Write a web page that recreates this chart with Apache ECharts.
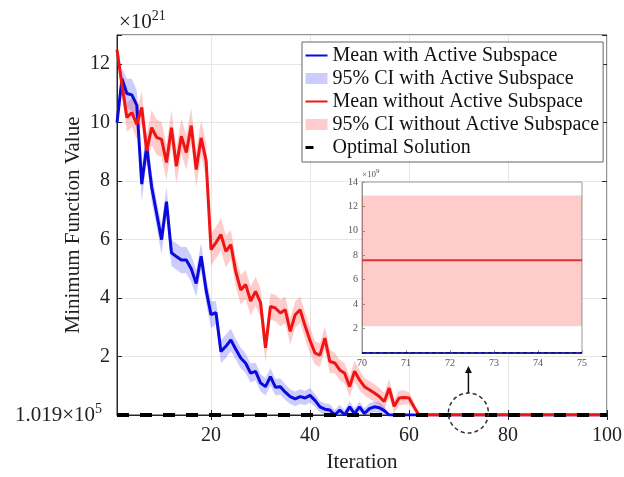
<!DOCTYPE html>
<html>
<head>
<meta charset="utf-8">
<script src="https://cdn.jsdelivr.net/npm/echarts@6/dist/echarts.min.js"></script>
<style>
html,body{margin:0;padding:0;background:#fff;}
#c{width:624px;height:477px;}
</style>
</head>
<body>
<div id="c"></div>
<script>
// ---------- data (values in units of 1e21; 0 == optimal 1.019e5) ----------
const iterations = Array.from({length: 100}, (_, i) => i + 1);

const blueMean = [
  10.0, 11.5, 11.0, 10.95, 10.6, 7.9, 9.2, 7.8, 6.9, 6.0,
  7.3, 5.55, 5.42, 5.3, 5.3, 5.0, 4.5, 5.43, 4.28, 3.43,
  3.5, 2.17, 2.35, 2.57, 2.25, 1.95, 1.77, 1.43, 1.49, 1.1,
  0.97, 1.31, 0.95, 0.97, 0.78, 0.63, 0.55, 0.63, 0.58, 0.67,
  0.5, 0.28, 0.2, 0.17, 0.0, 0.17, 0.0, 0.28, 0.05, 0.28,
  0.05, 0.22, 0.28, 0.25, 0.15, 0, 0, 0, 0, 0,
  0, 0, 0, 0, 0, 0, 0, 0, 0, 0,
  0, 0, 0, 0, 0, 0, 0, 0, 0, 0,
  0, 0, 0, 0, 0, 0, 0, 0, 0, 0,
  0, 0, 0, 0, 0, 0, 0, 0, 0, 0
];
const blueHalfCI = [
  0.1, 0.35, 0.5, 0.55, 0.5, 0.6, 0.5, 0.5, 0.45, 0.5,
  0.5, 0.45, 0.45, 0.45, 0.45, 0.45, 0.45, 0.45, 0.45, 0.45,
  0.4, 0.4, 0.4, 0.38, 0.35, 0.35, 0.33, 0.33, 0.3, 0.3,
  0.3, 0.3, 0.28, 0.28, 0.27, 0.25, 0.25, 0.25, 0.25, 0.25,
  0.22, 0.2, 0.2, 0.2, 0.18, 0.18, 0.18, 0.18, 0.18, 0.18,
  0.18, 0.18, 0.18, 0.18, 0.15, 0, 0, 0, 0, 0,
  0, 0, 0, 0, 0, 0, 0, 0, 0, 0,
  0, 0, 0, 0, 0, 0, 0, 0, 0, 0,
  0, 0, 0, 0, 0, 0, 0, 0, 0, 0,
  0, 0, 0, 0, 0, 0, 0, 0, 0, 0
];
const redMean = [
  12.5, 11.3, 10.18, 10.35, 9.94, 10.52, 9.03, 9.83, 9.5, 9.43,
  8.64, 9.83, 8.51, 9.54, 8.98, 9.9, 8.4, 9.48, 8.7, 5.66,
  5.9, 6.17, 5.6, 5.83, 4.9, 4.28, 4.46, 3.9, 4.23, 3.84,
  2.3, 3.71, 3.66, 3.49, 3.6, 2.86, 3.43, 3.6, 3.05, 2.55,
  2.12, 2.05, 2.63, 1.83, 1.78, 1.54, 1.43, 0.97, 1.5, 1.2,
  0.97, 0.86, 0.75, 0.63, 0.46, 0.92, 0.3, 0.58, 0.6, 0.58,
  0.28, 0, 0, 0, 0, 0, 0, 0, 0, 0,
  0, 0, 0, 0, 0, 0, 0, 0, 0, 0,
  0, 0, 0, 0, 0, 0, 0, 0, 0, 0,
  0, 0, 0, 0, 0, 0, 0, 0, 0, 0
];
const redHalfCI = [
  0.2, 0.4, 0.5, 0.5, 0.5, 0.55, 0.55, 0.6, 0.6, 0.6,
  0.6, 0.6, 0.6, 0.6, 0.6, 0.6, 0.6, 0.6, 0.6, 0.55,
  0.55, 0.55, 0.55, 0.5, 0.5, 0.5, 0.5, 0.5, 0.5, 0.5,
  0.5, 0.45, 0.45, 0.45, 0.45, 0.45, 0.45, 0.45, 0.45, 0.45,
  0.4, 0.4, 0.4, 0.4, 0.35, 0.35, 0.35, 0.35, 0.35, 0.35,
  0.3, 0.3, 0.3, 0.3, 0.3, 0.3, 0.25, 0.25, 0.25, 0.2,
  0.15, 0, 0, 0, 0, 0, 0, 0, 0, 0,
  0, 0, 0, 0, 0, 0, 0, 0, 0, 0,
  0, 0, 0, 0, 0, 0, 0, 0, 0, 0,
  0, 0, 0, 0, 0, 0, 0, 0, 0, 0
];
const optimalValue = 0;

// inset (units of 1e9)
const insetIter = [70, 71, 72, 73, 74, 75];
const insetRedMean = [7.6, 7.6, 7.6, 7.6, 7.6, 7.6];
const insetRedLow = [2.2, 2.2, 2.2, 2.2, 2.2, 2.2];
const insetRedHigh = [12.9, 12.9, 12.9, 12.9, 12.9, 12.9];
const insetBlueMean = [0, 0, 0, 0, 0, 0];

// ---------- derived ----------
const blueLow = blueMean.map((m, i) => Math.max(0, m - blueHalfCI[i]));
const blueSpan = blueMean.map((m, i) => m + blueHalfCI[i] - blueLow[i]);
const redLow = redMean.map((m, i) => Math.max(0, m - redHalfCI[i]));
const redSpan = redMean.map((m, i) => m + redHalfCI[i] - redLow[i]);
const optimal = iterations.map(() => optimalValue);
const insetSpan = insetRedHigh.map((h, i) => h - insetRedLow[i]);
const insetOptimal = insetIter.map(() => optimalValue);

const SERIF = '"Liberation Serif","Times New Roman",serif';
const every20 = (idx, val) => Number(val) % 20 === 0;
const AX = '#262626';
const GRIDC = '#e6e6e6';
const BLUE = '#0a0adc';
const RED = '#f01414';
const BLUE_CI = 'rgba(0,0,255,0.2)';
const RED_CI = 'rgba(255,0,0,0.2)';

const chart = echarts.init(document.getElementById('c'), null, {renderer: 'canvas'});

const option = {
  animation: false,
  backgroundColor: '#fff',
  textStyle: {fontFamily: SERIF},
  grid: [
    {left: 117, top: 35, width: 490, height: 380, show: true, borderColor: AX, borderWidth: 1,
      backgroundColor: 'transparent', containLabel: false, outerBoundsMode: 'none'},
    {left: 362, top: 182, width: 220, height: 171, show: true, borderColor: '#999', borderWidth: 1,
      backgroundColor: '#fff', z: 3, containLabel: false, outerBoundsMode: 'none'}
  ],
  legend: {
    orient: 'vertical', left: 302, top: 42,
    itemWidth: 22, itemHeight: 11, itemGap: 0,
    padding: [2, 4, 3, 2],
    backgroundColor: '#fff', borderColor: '#666', borderWidth: 1,
    textStyle: {fontSize: 20, fontFamily: SERIF, color: '#111', lineHeight: 23},
    z: 8,
    data: [
      {name: 'Mean with Active Subspace', itemStyle: {opacity: 0}},
      {name: '95% CI with Active Subspace', icon: 'rect'},
      {name: 'Mean without Active Subspace', itemStyle: {opacity: 0}},
      {name: '95% CI without Active Subspace', icon: 'rect'},
      {name: 'Optimal Solution', itemStyle: {opacity: 0}, lineStyle: {type: [8, 40], width: 3}}
    ]
  },
  xAxis: [
    {
      type: 'category', gridIndex: 0, data: iterations.map(String), boundaryGap: false,
      axisLine: {lineStyle: {color: AX}},
      axisTick: {inside: true, length: 5, interval: every20, lineStyle: {color: AX}},
      axisLabel: {interval: every20, fontSize: 20, color: '#222', margin: 11, fontFamily: SERIF},
      splitLine: {show: true, interval: every20, lineStyle: {color: GRIDC}},
      name: 'Iteration', nameLocation: 'middle', nameGap: 37, nameMoveOverlap: false,
      nameTextStyle: {fontSize: 21, color: '#222', fontFamily: SERIF, verticalAlign: 'top'}
    },
    {
      type: 'category', gridIndex: 0, position: 'top', data: iterations.map(String), boundaryGap: false,
      axisLine: {show: false},
      axisTick: {inside: true, length: 5, interval: every20, lineStyle: {color: AX}},
      axisLabel: {show: false}, splitLine: {show: false}
    },
    {
      type: 'category', gridIndex: 1, data: insetIter.map(String), boundaryGap: false, z: 4,
      axisLine: {lineStyle: {color: '#999'}},
      axisTick: {inside: true, length: 3, lineStyle: {color: '#999'}},
      axisLabel: {fontSize: 10, color: '#555', margin: 5, fontFamily: SERIF},
      splitLine: {show: false}
    }
  ],
  yAxis: [
    {
      type: 'value', gridIndex: 0, min: 0, max: 13, interval: 2,
      axisLine: {show: true, lineStyle: {color: AX}},
      axisTick: {show: true, inside: true, length: 5, lineStyle: {color: AX}},
      axisLabel: {
        fontSize: 20, color: '#222', margin: 7, fontFamily: SERIF,
        formatter: v => v === 0 ? '{n|1.019×10}{s|5}' : (v > 12.5 ? '' : String(v)),
        rich: {
          n: {fontSize: 21, fontFamily: SERIF, color: '#222'},
          s: {fontSize: 14, fontFamily: SERIF, color: '#222', padding: [0, 8, 12, 0]}
        }
      },
      splitLine: {show: true, lineStyle: {color: GRIDC}},
      name: 'Minimum Function Value', nameLocation: 'middle', nameGap: 33, nameMoveOverlap: false,
      nameTextStyle: {fontSize: 21, color: '#222', fontFamily: SERIF}
    },
    {
      type: 'value', gridIndex: 0, position: 'right', min: 0, max: 13, interval: 2,
      axisLine: {show: false},
      axisTick: {show: true, inside: true, length: 5, lineStyle: {color: AX}},
      axisLabel: {show: false}, splitLine: {show: false}
    },
    {
      type: 'value', gridIndex: 1, min: 0, max: 14, interval: 2, z: 4,
      axisLine: {show: true, lineStyle: {color: '#999'}},
      axisTick: {show: true, inside: true, length: 3, lineStyle: {color: '#999'}},
      axisLabel: {fontSize: 10, color: '#555', margin: 4, fontFamily: SERIF, formatter: v => v === 0 ? '' : String(v)},
      splitLine: {show: false},
      name: '{a|×10}{s|9}', nameLocation: 'end', nameGap: 1, nameMoveOverlap: false,
      nameTextStyle: {
        align: 'left', verticalAlign: 'bottom',
        rich: {
          a: {fontSize: 9, color: '#555', fontFamily: SERIF},
          s: {fontSize: 7, color: '#555', fontFamily: SERIF, padding: [0, 0, 6, 0]}
        }
      }
    }
  ],
  series: [
    {type: 'line', name: '_blueLow', xAxisIndex: 0, yAxisIndex: 0, stack: 'bci', data: blueLow,
      symbol: 'none', silent: true, lineStyle: {opacity: 0, width: 0}, z: 2},
    {type: 'line', name: '95% CI with Active Subspace', xAxisIndex: 0, yAxisIndex: 0, stack: 'bci', data: blueSpan,
      symbol: 'none', color: BLUE_CI, lineStyle: {opacity: 0, width: 0}, areaStyle: {color: BLUE_CI, opacity: 1}, z: 2},
    {type: 'line', name: '_redLow', xAxisIndex: 0, yAxisIndex: 0, stack: 'rci', data: redLow,
      symbol: 'none', silent: true, lineStyle: {opacity: 0, width: 0}, z: 2},
    {type: 'line', name: '95% CI without Active Subspace', xAxisIndex: 0, yAxisIndex: 0, stack: 'rci', data: redSpan,
      symbol: 'none', color: RED_CI, lineStyle: {opacity: 0, width: 0}, areaStyle: {color: RED_CI, opacity: 1}, z: 2},
    {type: 'line', name: 'Mean with Active Subspace', xAxisIndex: 0, yAxisIndex: 0, data: blueMean,
      symbol: 'none', color: BLUE, lineStyle: {width: 3, color: BLUE}, z: 2},
    {type: 'line', name: 'Mean without Active Subspace', xAxisIndex: 0, yAxisIndex: 0, data: redMean,
      symbol: 'none', color: RED, lineStyle: {width: 3, color: RED}, z: 2},
    {type: 'line', name: 'Optimal Solution', xAxisIndex: 0, yAxisIndex: 0, data: optimal,
      symbol: 'none', color: '#000', lineStyle: {width: 4, type: [12, 11], color: '#000'}, z: 2},

    {type: 'line', name: '_insetLow', xAxisIndex: 2, yAxisIndex: 2, stack: 'ici', data: insetRedLow,
      symbol: 'none', silent: true, lineStyle: {opacity: 0, width: 0}, z: 5},
    {type: 'line', name: '_insetBand', xAxisIndex: 2, yAxisIndex: 2, stack: 'ici', data: insetSpan,
      symbol: 'none', color: RED_CI, lineStyle: {opacity: 0, width: 0}, areaStyle: {color: RED_CI, opacity: 1}, z: 5},
    {type: 'line', name: '_insetRed', xAxisIndex: 2, yAxisIndex: 2, data: insetRedMean,
      symbol: 'none', color: '#e03030', lineStyle: {width: 2, color: '#e03030'}, z: 6},
    {type: 'line', name: '_insetBlue', xAxisIndex: 2, yAxisIndex: 2, data: insetBlueMean,
      symbol: 'none', color: '#2828c8', lineStyle: {width: 2, color: '#2828c8'}, z: 6},
    {type: 'line', name: '_insetOpt', xAxisIndex: 2, yAxisIndex: 2, data: insetOptimal,
      symbol: 'none', color: '#000', lineStyle: {width: 1.2, type: [4, 3], color: '#000'}, z: 7}
  ]
};
chart.setOption(option);

// annotations: exponent label, zoom circle and arrow
const topLeft = chart.convertToPixel({gridIndex: 0}, [0, 13]);
const ctr = chart.convertToPixel({gridIndex: 0}, [71, optimalValue]);
const cx = ctr[0], cy = ctr[1] - 2;
chart.setOption({
  graphic: [
    {type: 'text', x: topLeft[0] + 2, y: topLeft[1], z: 10,
      style: {text: '{a|×10}{s|21}', textVerticalAlign: 'bottom', verticalAlign: 'bottom',
        rich: {
          a: {fontSize: 21, fontFamily: SERIF, fill: '#222', color: '#222'},
          s: {fontSize: 14, fontFamily: SERIF, fill: '#222', color: '#222', padding: [0, 0, 12, 0]}
        }}},
    {type: 'circle', z: 10, shape: {cx: cx, cy: cy, r: 20},
      style: {fill: 'none', stroke: '#333', lineWidth: 1.5, lineDash: [4, 3]}},
    {type: 'line', z: 10, shape: {x1: cx, y1: cy - 20, x2: cx, y2: cy - 42},
      style: {stroke: '#111', lineWidth: 1.5}},
    {type: 'polygon', z: 10, shape: {points: [[cx - 3.5, cy - 40], [cx + 3.5, cy - 40], [cx, cy - 47]]},
      style: {fill: '#111'}}
  ]
});
</script>
</body>
</html>
